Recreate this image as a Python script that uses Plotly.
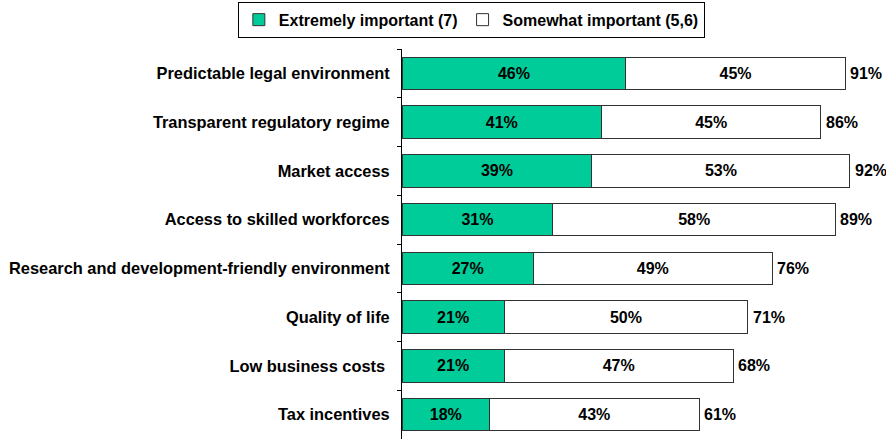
import plotly.graph_objects as go

categories = [
    "Predictable legal environment",
    "Transparent regulatory regime",
    "Market access",
    "Access to skilled workforces",
    "Research and development-friendly environment",
    "Quality of life",
    "Low business costs\u00a0",
    "Tax incentives",
]
extremely = [46, 41, 39, 31, 27, 21, 21, 18]
somewhat = [45, 45, 53, 58, 49, 50, 47, 43]
totals = [e + s for e, s in zip(extremely, somewhat)]

FONT = "Liberation Sans, Arial, sans-serif"
EDGE = "#333333"

fig = go.Figure()
fig.add_trace(go.Bar(
    y=categories, x=extremely, orientation="h",
    name="<b>Extremely important (7)</b>",
    marker=dict(color="#00CC99", line=dict(color=EDGE, width=1)),
    text=[f"<b>{v}%</b>" for v in extremely], textposition="inside",
    insidetextanchor="middle", textfont=dict(color="black", size=16, family=FONT),
))
fig.add_trace(go.Bar(
    y=categories, x=somewhat, orientation="h",
    name="<b>Somewhat important (5,6)</b>",
    marker=dict(color="white", line=dict(color=EDGE, width=1)),
    text=[f"<b>{v}%</b>" for v in somewhat], textposition="inside",
    insidetextanchor="middle", textfont=dict(color="black", size=16, family=FONT),
))

# total share shown just past the end of each stacked bar
for cat, tot in zip(categories, totals):
    fig.add_annotation(
        x=tot, y=cat, xref="x", yref="y",
        text=f"<b>{tot}%</b>", showarrow=False,
        xanchor="left", xshift=3,
        font=dict(color="black", size=16, family=FONT),
    )

fig.update_layout(
    width=886, height=439,
    barmode="stack", bargap=0.33,
    plot_bgcolor="white", paper_bgcolor="white",
    margin=dict(l=402, r=0, t=49, b=0),
    font=dict(family=FONT, size=16, color="black"),
    uniformtext=dict(mode="show", minsize=16),
    legend=dict(
        orientation="h", xref="container", yref="container",
        x=0.532, xanchor="center", y=0.996, yanchor="top",
        bordercolor="black", borderwidth=1,
        font=dict(size=16, family=FONT), traceorder="normal",
        itemwidth=30, tracegroupgap=0,
    ),
    xaxis=dict(range=[0, 99.4], visible=False, fixedrange=True),
    yaxis=dict(
        type="category", autorange="reversed",
        showline=True, linecolor="black", linewidth=1,
        ticks="outside", tickson="boundaries", ticklen=4, tickcolor="black",
        showgrid=False, ticklabelstandoff=8,
        tickfont=dict(size=16.4, family=FONT),
        tickprefix="<b>", ticksuffix="</b>",
    ),
)

fig.write_html("out.html")
